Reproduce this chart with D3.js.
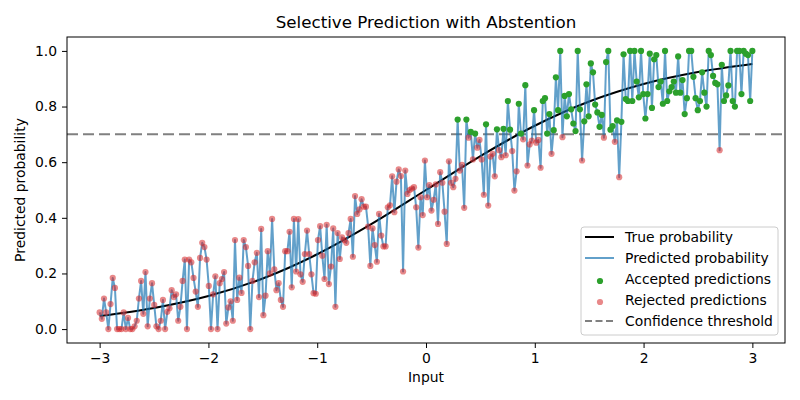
<!DOCTYPE html>
<html>
<head>
<meta charset="utf-8">
<script src="https://cdn.jsdelivr.net/npm/d3@7"></script>
<style>
  body { margin: 0; background: #fff; }
  svg { font-family: 'DejaVu Sans', sans-serif; }
</style>
</head>
<body>
<script>
// predicted probability at 300 evenly spaced inputs from -3 to 3
const predicted = [
  0.06, 0.037, 0.11, 0.06, 0.0, 0.09, 0.184, 0.148, 0, 0, 0, 0.06, 0, 0.04, 0, 0, 0.01, 0.03, 0.11, 0.173, 0.055, 0.205, 0.01, 0.11, 0.165, 0.087, 0.01, 0, 0.03,
  0.105, 0, 0.062, 0.075, 0.14, 0.115, 0.125, 0.03, 0.08, 0.173, 0.25, 0, 0.25, 0.24, 0.184, 0.135, 0.08, 0.256, 0.31, 0.295, 0.25, 0.155, 0, 0.125, 0.19, 0, 0.165, 0.18, 0.205, 0.02,
  0.078, 0.1, 0.03, 0.32, 0.105, 0.185, 0.13, 0.32, 0.295, 0.227, 0, 0.173, 0.24, 0.274, 0.115, 0.36, 0.05, 0.12, 0.28, 0.2, 0.396, 0.215, 0.14, 0.165, 0.105, 0.08, 0.28, 0.28, 0.35, 0.15, 0.396,
  0.207, 0.395, 0.197, 0.17, 0.27, 0.354, 0.27, 0.197, 0.129, 0.127, 0.32, 0.37, 0.264, 0.18, 0.375, 0.162, 0.225, 0.362, 0.08, 0.345, 0.252, 0.33, 0.32, 0.31, 0.345, 0.396, 0.26, 0.478, 0.414, 0.43, 0.467, 0.44,
  0.44, 0.368, 0.227, 0.362, 0.302, 0.242, 0.414, 0.336, 0.297, 0.297, 0.438, 0.445, 0.549, 0.42, 0.53, 0.574, 0.55, 0.207, 0.57, 0.486, 0.5, 0.505, 0.51, 0.438, 0.293, 0.474, 0.41, 0.606, 0.474, 0.518,
  0.426, 0.465, 0.52, 0.378, 0.564, 0.526, 0.422, 0.306, 0.603, 0.526, 0.51, 0.54, 0.753, 0.57, 0.59, 0.436, 0.753, 0.688, 0.709, 0.61, 0.703, 0.652, 0.68, 0.61, 0.483, 0.736, 0.444, 0.62, 0.63, 0.549, 0.718,
  0.643, 0.618, 0.72, 0.625, 0.82, 0.717, 0.64, 0.498, 0.567, 0.81, 0.703, 0.682, 0.877, 0.588, 0.664, 0.678, 0.787, 0.67, 0.68, 0.58, 0.82, 0.83, 0.703, 0.773, 0.63, 0.715, 0.905, 0.787, 1.0, 0.69,
  0.838, 0.765, 0.845, 0.79, 0.739, 0.712, 1.0, 0.79, 0.606, 0.747, 0.88, 0.765, 0.955, 0.923, 0.807, 0.779, 0.727, 0.77, 0.688, 0.96, 1.0, 0.717, 0.73, 0.673, 0.75, 0.546, 0.745, 0.988, 0.827, 0.82, 1.0,
  0.82, 1.0, 0.89, 0.833, 1.0, 0.845, 0.757, 0.845, 0.99, 0.795, 0.97, 0.985, 0.87, 0.89, 0.81, 1.0, 0.82, 0.855, 0.87, 0.89, 0.85, 0.98, 0.85, 0.895, 0.773, 0.83, 1.0, 1.0, 0.907, 0.83, 0.787,
  0.82, 0.923, 0.85, 0.8, 1.0, 0.985, 0.91, 0.885, 0.88, 0.643, 0.95, 0.82, 0.84, 0.876, 1.0, 0.82, 0.8, 1.0, 1.0, 0.845, 1.0, 0.99, 0.985, 0.82, 1.0
];

// true probability curve, sampled every 0.5
const trueX = [-3, -2.5, -2, -1.5, -1, -0.5, 0, 0.5, 1, 1.5, 2, 2.5, 3];
const trueP = [0.047, 0.076, 0.119, 0.182, 0.269, 0.378, 0.5, 0.622, 0.731, 0.818, 0.881, 0.924, 0.953];

const threshold = 0.7;
const xTicks = [-3, -2, -1, 0, 1, 2, 3];
const yTicks = [0.0, 0.2, 0.4, 0.6, 0.8, 1.0];
const legendLabels = ['True probability', 'Predicted probability', 'Accepted predictions', 'Rejected predictions', 'Confidence threshold'];

const inputs = predicted.map((_, i) => -3 + (6 * i) / (predicted.length - 1));
const points = predicted.map((p, i) => ({ x: inputs[i], p: p }));

const W = 800;
const H = 400;
const margin = { top: 37, right: 15, bottom: 57, left: 67 };
const width = W - margin.left - margin.right;
const height = H - margin.top - margin.bottom;

const svg = d3
  .select('body')
  .append('svg')
  .attr('width', W)
  .attr('height', H);

const g = svg.append('g').attr('transform', `translate(${margin.left},${margin.top})`);

const x = d3.scaleLinear().domain([-3.3, 3.3]).range([0, width]);
const y = d3.scaleLinear().domain([-0.05, 1.05]).range([height, 0]);

const fmtX = (d) => (d < 0 ? '\u2212' + Math.abs(d) : String(d));

// axes
const xAxis = g
  .append('g')
  .attr('transform', `translate(0,${height})`)
  .call(d3.axisBottom(x).tickValues(xTicks).tickFormat(fmtX).tickSizeOuter(0).tickSize(5).tickPadding(5));
const yAxis = g
  .append('g')
  .call(d3.axisLeft(y).tickValues(yTicks).tickFormat(d3.format('.1f')).tickSizeOuter(0).tickSize(5).tickPadding(5));

[xAxis, yAxis].forEach((a) => {
  a.select('.domain').remove();
  a.selectAll('line').attr('stroke', '#000').attr('stroke-width', 1);
  a.selectAll('text').attr('fill', '#000').style('font-size', '13.9px').style('font-family', 'DejaVu Sans');
});

// threshold line
g.append('line')
  .attr('x1', 0)
  .attr('x2', width)
  .attr('y1', y(threshold))
  .attr('y2', y(threshold))
  .attr('stroke', '#808080')
  .attr('stroke-width', 2)
  .attr('stroke-dasharray', '11,5');

// true probability
g.append('path')
  .datum(trueX.map((d, i) => [d, trueP[i]]))
  .attr('fill', 'none')
  .attr('stroke', '#000')
  .attr('stroke-width', 2)
  .attr('d', d3.line().x((d) => x(d[0])).y((d) => y(d[1])).curve(d3.curveCatmullRom));

// predicted probability
g.append('path')
  .datum(points)
  .attr('fill', 'none')
  .attr('stroke', '#1f77b4')
  .attr('stroke-opacity', 0.7)
  .attr('stroke-width', 2)
  .attr('stroke-linejoin', 'round')
  .attr('d', d3.line().x((d) => x(d.x)).y((d) => y(d.p)));

// rejected
g.selectAll('.rej')
  .data(points.filter((d) => d.p < threshold))
  .enter()
  .append('circle')
  .attr('class', 'rej')
  .attr('cx', (d) => x(d.x))
  .attr('cy', (d) => y(d.p))
  .attr('r', 3.1)
  .attr('fill', '#d62728')
  .attr('fill-opacity', 0.55);

// accepted
g.selectAll('.acc')
  .data(points.filter((d) => d.p >= threshold))
  .enter()
  .append('circle')
  .attr('class', 'acc')
  .attr('cx', (d) => x(d.x))
  .attr('cy', (d) => y(d.p))
  .attr('r', 3.1)
  .attr('fill', '#2ca02c');

// frame
g.append('rect')
  .attr('width', width)
  .attr('height', height)
  .attr('fill', 'none')
  .attr('stroke', '#000')
  .attr('stroke-width', 1);

// title and labels
svg.append('text')
  .attr('x', margin.left + width / 2)
  .attr('y', 28)
  .attr('text-anchor', 'middle')
  .style('font-size', '16.7px')
  .text('Selective Prediction with Abstention');

svg.append('text')
  .attr('x', margin.left + width / 2)
  .attr('y', 382)
  .attr('text-anchor', 'middle')
  .style('font-size', '13.9px')
  .text('Input');

svg.append('text')
  .attr('transform', `translate(25,${margin.top + height / 2}) rotate(-90)`)
  .attr('text-anchor', 'middle')
  .style('font-size', '13.9px')
  .text('Predicted probability');

// legend
const legend = svg.append('g').attr('transform', 'translate(581,227)');
legend.append('rect')
  .attr('width', 197)
  .attr('height', 108)
  .attr('rx', 3)
  .attr('fill', '#fff')
  .attr('fill-opacity', 0.8)
  .attr('stroke', '#cccccc')
  .attr('stroke-width', 1);

legendLabels.forEach((label, i) => {
  const cy = 10 + i * 21;
  const row = legend.append('g').attr('transform', `translate(0,${cy})`);
  if (i === 0 || i === 1 || i === 4) {
    row.append('line')
      .attr('x1', 4)
      .attr('x2', 33)
      .attr('stroke', i === 0 ? '#000' : i === 1 ? '#1f77b4' : '#808080')
      .attr('stroke-opacity', i === 1 ? 0.7 : 1)
      .attr('stroke-width', 2)
      .attr('stroke-dasharray', i === 4 ? '7,3.5' : null);
  } else {
    row.append('circle')
      .attr('cx', 19)
      .attr('cy', 2)
      .attr('r', 3.1)
      .attr('fill', i === 2 ? '#2ca02c' : '#d62728')
      .attr('fill-opacity', i === 2 ? 1 : 0.55);
  }
  row.append('text')
    .attr('x', 44)
    .attr('y', 5)
    .style('font-size', '13.9px')
    .text(label);
});
</script>
</body>
</html>
